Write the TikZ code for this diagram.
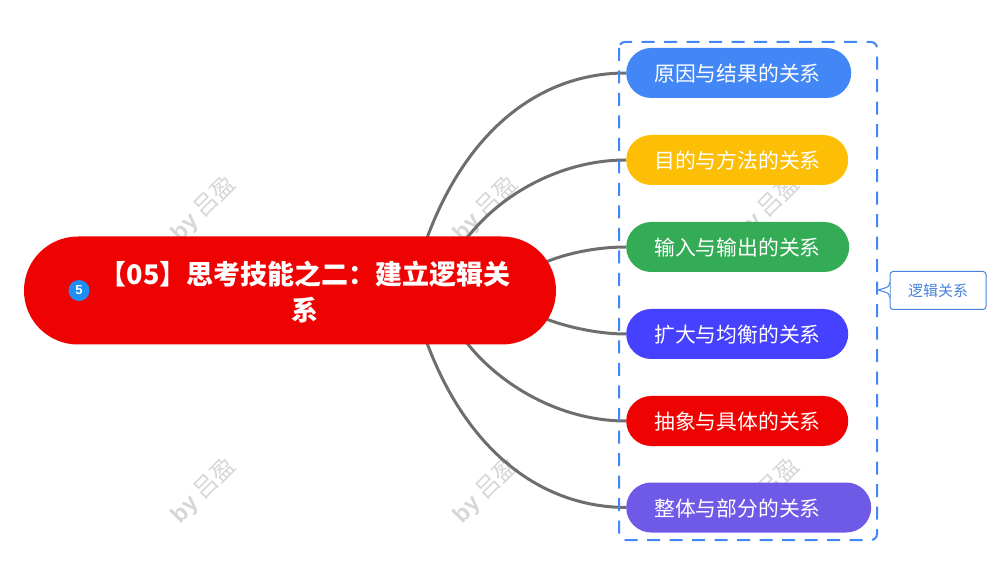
\documentclass[tikz,border=0pt]{standalone}
\usepackage{fontspec}
\setmainfont{Noto Sans CJK SC}
\newfontfamily\byfont{Liberation Sans}
\usetikzlibrary{backgrounds}
\definecolor{rootred}{HTML}{EE0202}
\definecolor{relblue}{HTML}{4287F5}
\definecolor{relyellow}{HTML}{FDBF06}
\definecolor{relgreen}{HTML}{34AB55}
\definecolor{relindigo}{HTML}{4640FF}
\definecolor{relpurple}{HTML}{6E5AE6}
\definecolor{branchgray}{HTML}{6E6E6E}
\definecolor{markgray}{HTML}{D6D6D6}
\definecolor{iconblue}{HTML}{1E90F5}
\definecolor{noteblue}{HTML}{4A82DC}
\tikzset{
  relbox/.style={anchor=west,rounded corners=25pt,minimum height=50pt,inner xsep=28pt,inner ysep=0pt,
    align=left,text=white,text height=20pt,text depth=3pt,font=\fontsize{20.8}{24}\selectfont},
  rootbox/.style={fill=rootred,rounded corners=53.9pt,minimum width=532pt,minimum height=108pt,inner sep=0pt,
    align=center,text=white,font=\fontsize{27}{36}\selectfont\bfseries},
  branch/.style={draw=branchgray,line width=3pt},
  groupbox/.style={draw=relblue,line width=2pt,rounded corners=6pt,dash pattern=on 13pt off 9.5pt},
  notebox/.style={draw=noteblue,fill=white,line width=1pt,rounded corners=3pt,minimum width=96pt,minimum height=38pt,
    inner sep=0pt,text=noteblue,font=\fontsize{15}{16}\selectfont},
  wmark/.style={rotate=45,text=markgray,font=\fontsize{23.5}{28}\selectfont}
}
\begin{document}
\begin{tikzpicture}[x=1pt,y=-1pt]
  \useasboundingbox (0,0) rectangle (1002,561);
  \draw[groupbox] (619,42) rectangle (877,540);
  \node[rootbox] (root) at (290,290.5) {\hspace*{30pt}\rule{0pt}{26pt}【05】思考技能之二：建立逻辑关\\\hspace*{30pt}系};
  \node[circle,fill=iconblue,minimum size=21pt,inner sep=0pt,text=white,font=\byfont\fontsize{13}{14}\selectfont\bfseries] (badge) at (79,290.5) {5};
  \node[relbox,fill=relblue,text width=169pt] (rel1) at (626,73) {原因与结果的关系};
  \node[relbox,fill=relyellow,text width=166pt] (rel2) at (626,160) {目的与方法的关系};
  \node[relbox,fill=relgreen,text width=167pt] (rel3) at (626,247) {输入与输出的关系};
  \node[relbox,fill=relindigo,text width=166pt] (rel4) at (626,334) {扩大与均衡的关系};
  \node[relbox,fill=rootred,text width=166pt] (rel5) at (626,421) {抽象与具体的关系};
  \node[relbox,fill=relpurple,text width=189pt] (rel6) at (626,507.5) {整体与部分的关系};
  \node[notebox] (note) at (938,290.5) {逻辑关系};
  \coordinate (notetip) at (878,290);
  \fill[white] ([yshift=8pt]note.west) -- (notetip) -- ([yshift=-7pt]note.west) -- cycle;
  \draw[noteblue,line width=1pt] ([yshift=8pt]note.west) .. controls (889,287) .. (notetip) .. controls (889,293) .. ([yshift=-7pt]note.west);
  \begin{scope}[on background layer]
    \foreach \mx in {204,486,768}
      \foreach \my in {209,491}
        \node[wmark] at (\mx,\my) {{\byfont\bfseries by} 吕盈};
    \draw[branch] (root.center) -- (427,238) .. controls (467,130) and (540,73) .. (rel1.west);
    \draw[branch] (root.center) -- (467,238) .. controls (500,195) and (560,160) .. (rel2.west);
    \draw[branch] (root.center) -- (546,262) .. controls (570,252) and (600,247) .. (rel3.west);
    \draw[branch] (root.center) -- (546,319) .. controls (570,328) and (600,334) .. (rel4.west);
    \draw[branch] (root.center) -- (467,343) .. controls (500,385) and (560,421) .. (rel5.west);
    \draw[branch] (root.center) -- (427,343) .. controls (467,450) and (540,507) .. (rel6.west);
  \end{scope}
\end{tikzpicture}
\end{document}
